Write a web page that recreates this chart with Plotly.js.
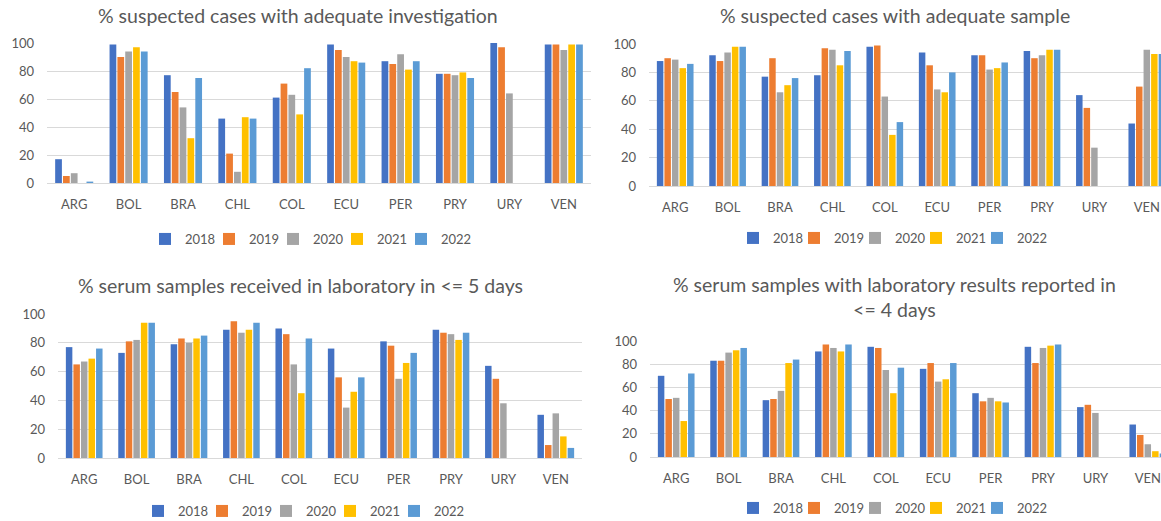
<!DOCTYPE html>
<html>
<head>
<meta charset="utf-8">
<script src="https://cdn.plot.ly/plotly-3.0.1.min.js"></script>
<style>
  html, body { margin: 0; padding: 0; background: #ffffff; overflow: hidden; }
  #chart { width: 1161px; height: 521px; }
</style>
</head>
<body>
<div id="chart"></div>
<script>
// ---------- data ----------
const countries = ['ARG', 'BOL', 'BRA', 'CHL', 'COL', 'ECU', 'PER', 'PRY', 'URY', 'VEN'];
const years = ['2018', '2019', '2020', '2021', '2022'];

// % suspected cases with adequate investigation
const invest2018 = [17, 99, 77, 46, 61, 99, 87, 78, 100, 99];
const invest2019 = [5, 90, 65, 21, 71, 95, 85, 78, 97, 99];
const invest2020 = [7, 94, 54, 8, 63, 90, 92, 77, 64, 95];
const invest2021 = [null, 97, 32, 47, 49, 87, 81, 79, null, 99];
const invest2022 = [1, 94, 75, 46, 82, 86, 87, 75, null, 99];

// % suspected cases with adequate sample
const sample2018 = [88, 92, 77, 78, 98, 94, 92, 95, 64, 44];
const sample2019 = [90, 88, 90, 97, 99, 85, 92, 90, 55, 70];
const sample2020 = [89, 94, 66, 96, 63, 68, 82, 92, 27, 96];
const sample2021 = [83, 98, 71, 85, 36, 66, 83, 96, null, 93];
const sample2022 = [86, 98, 76, 95, 45, 80, 87, 96, null, 93];

// % serum samples received in laboratory in <= 5 days
const received2018 = [77, 73, 79, 89, 90, 76, 81, 89, 64, 30];
const received2019 = [65, 81, 83, 95, 86, 56, 78, 87, 55, 9];
const received2020 = [67, 82, 80, 87, 65, 35, 55, 86, 38, 31];
const received2021 = [69, 94, 83, 89, 45, 46, 66, 82, null, 15];
const received2022 = [76, 94, 85, 94, 83, 56, 73, 87, null, 7];

// % serum samples with laboratory results reported in <= 4 days
const results2018 = [70, 83, 49, 91, 95, 76, 55, 95, 43, 28];
const results2019 = [50, 83, 50, 97, 94, 81, 48, 81, 45, 19];
const results2020 = [51, 90, 57, 94, 75, 65, 51, 94, 38, 11];
const results2021 = [31, 92, 81, 91, 55, 67, 48, 96, null, 5];
const results2022 = [72, 94, 84, 97, 77, 81, 47, 97, null, 3];

const panelTitles = [
  '% suspected cases with adequate investigation',
  '% suspected cases with adequate sample',
  '% serum samples received in laboratory in <= 5 days',
  '% serum samples with laboratory results reported in<br><= 4 days'
];
const yearColors = ['#4472C4', '#ED7D31', '#A5A5A5', '#FFC000', '#5B9BD5'];

const panels = [
  [invest2018, invest2019, invest2020, invest2021, invest2022],
  [sample2018, sample2019, sample2020, sample2021, sample2022],
  [received2018, received2019, received2020, received2021, received2022],
  [results2018, results2019, results2020, results2021, results2022]
];

// ---------- layout geometry (pixels) ----------
const W = 1161, H = 521;
const FONT = 'Lato, "Open Sans", sans-serif';
const GREY = '#595959';
const GRID = '#D9D9D9';

const boxes = [
  {l: 47,  r: 591,  t: 43,  b: 183, band: 54.4},
  {l: 649, r: 1161, t: 44,  b: 186, band: 52.4},
  {l: 58,  r: 582,  t: 314, b: 458, band: 52.4},
  {l: 650, r: 1161, t: 341, b: 457, band: 52.4}
];
const titlePos = [
  {x: 298, y: 16},
  {x: 895, y: 16},
  {x: 300, y: 285},
  {x: 895, y: 297}
];
const legendPos = [
  {x: 145, y: 239, ew: 19},
  {x: 733, y: 238, ew: 16},
  {x: 138, y: 511, ew: 19},
  {x: 733, y: 508, ew: 16}
];

const traces = [];
const layout = {
  width: W, height: H,
  margin: {l: 0, r: 0, t: 0, b: 0, pad: 0, autoexpand: false},
  paper_bgcolor: '#ffffff',
  plot_bgcolor: '#ffffff',
  barmode: 'group',
  bargap: 0.28,
  bargroupgap: 0.14,
  font: {family: FONT, color: GREY, size: 13},
  annotations: [],
  hovermode: false
};

panels.forEach((series, p) => {
  const sfx = p === 0 ? '' : String(p + 1);
  const legName = 'legend' + sfx;
  series.forEach((vals, i) => {
    traces.push({
      type: 'bar',
      x: countries,
      y: vals,
      name: years[i],
      marker: {color: yearColors[i], line: {width: 0}},
      xaxis: 'x' + sfx,
      yaxis: 'y' + sfx,
      legend: legName,
      showlegend: true
    });
  });
  // invisible legend spacer (no drawn point) so the last label is not clipped
  traces.push({
    type: 'scatter',
    mode: 'markers',
    x: [countries[0]],
    y: [null],
    name: '\u00a0',
    marker: {color: 'rgba(0,0,0,0)', size: 1},
    xaxis: 'x' + sfx,
    yaxis: 'y' + sfx,
    legend: legName,
    showlegend: true
  });

  const bx = boxes[p];
  const widthPx = bx.r - bx.l;
  const xr = [-0.5, -0.5 + widthPx / bx.band];

  layout['xaxis' + sfx] = {
    domain: [bx.l / W, bx.r / W],
    anchor: 'y' + sfx,
    type: 'category',
    categoryorder: 'array',
    categoryarray: countries,
    range: xr,
    showgrid: false,
    showline: true,
    linecolor: GRID,
    linewidth: 1,
    ticks: '',
    ticklabelstandoff: 9,
    tickfont: {family: FONT, size: 13, color: GREY},
    fixedrange: true
  };
  layout['yaxis' + sfx] = {
    domain: [1 - bx.b / H, 1 - bx.t / H],
    anchor: 'x' + sfx,
    range: [0, 100],
    dtick: 20,
    tick0: 0,
    showgrid: true,
    gridcolor: GRID,
    gridwidth: 1,
    zeroline: false,
    showline: false,
    ticks: '',
    ticklabelstandoff: 12,
    tickfont: {family: FONT, size: 13, color: GREY},
    fixedrange: true
  };

  layout[legName] = {
    orientation: 'h',
    x: legendPos[p].x / W,
    y: 1 - legendPos[p].y / H,
    xanchor: 'left',
    yanchor: 'middle',
    font: {family: FONT, size: 13, color: GREY},
    bgcolor: 'rgba(0,0,0,0)',
    itemwidth: 30,
    entrywidth: legendPos[p].ew,
    entrywidthmode: 'pixels',
    traceorder: 'normal'
  };

  layout.annotations.push({
    text: panelTitles[p],
    xref: 'paper', yref: 'paper',
    x: titlePos[p].x / W,
    y: 1 - titlePos[p].y / H,
    xanchor: 'center', yanchor: 'middle',
    showarrow: false,
    align: 'center',
    font: {family: FONT, size: 19.5, color: GREY}
  });
});

Plotly.newPlot('chart', traces, layout, {staticPlot: true, displayModeBar: false});
</script>
</body>
</html>
